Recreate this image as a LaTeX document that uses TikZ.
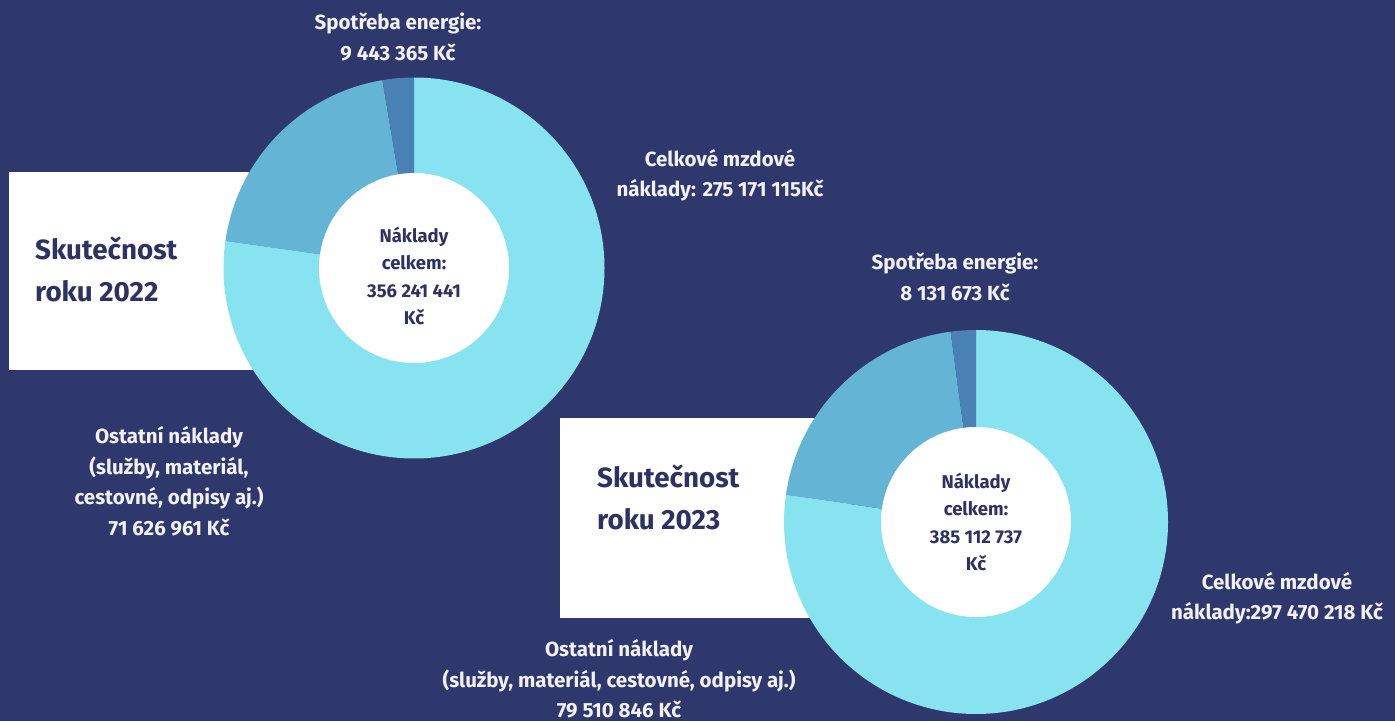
\documentclass[tikz,border=0pt]{standalone}
\usepackage{fontspec}
\setmainfont{Fira Sans}
\definecolor{bg}{HTML}{2F386C}
\definecolor{mzdy}{HTML}{87E3F0}
\definecolor{ost}{HTML}{64B4D6}
\definecolor{ener}{HTML}{4A82B5}
\definecolor{dark}{HTML}{2D3263}
\definecolor{wtext}{HTML}{F2F2F6}
\tikzset{
  lbl/.style={text=wtext, align=center, inner sep=0pt, font=\bfseries\fontsize{20.5}{30.5}\selectfont},
  inlbl/.style={text=dark, align=center, inner sep=0pt, font=\bfseries\fontsize{18.5}{27.5}\selectfont},
  ttl/.style={text=dark, align=left, inner sep=0pt, anchor=west, font=\bfseries\fontsize{27.8}{42}\selectfont},
  panel/.style={fill=white, draw=none},
}
\begin{document}
\begin{tikzpicture}[x=1pt,y=1pt]
\fill[bg] (0,0) rectangle (1395,721);
\useasboundingbox (0,0) rectangle (1395,721);
% white panels
\fill[panel] (9,549) rectangle (330,351);
\fill[panel] (560,303) rectangle (850,103);
% donut 1
\coordinate (c1) at (414,453);
\fill[mzdy] (c1) -- ++(90:190.5) arc[start angle=90, end angle=-188.07, radius=190.5] -- cycle;
\fill[ost] (c1) -- ++(-188.07:190.5) arc[start angle=-188.07, end angle=-260.45, radius=190.5] -- cycle;
\fill[ener] (c1) -- ++(-260.45:190.5) arc[start angle=-260.45, end angle=-270, radius=190.5] -- cycle;
\fill[white] (c1) circle[radius=95];
% donut 2
\coordinate (c2) at (976,199);
\fill[mzdy] (c2) -- ++(90:192) arc[start angle=90, end angle=-188.07, radius=192] -- cycle;
\fill[ost] (c2) -- ++(-188.07:192) arc[start angle=-188.07, end angle=-262.40, radius=192] -- cycle;
\fill[ener] (c2) -- ++(-262.40:192) arc[start angle=-262.40, end angle=-270, radius=192] -- cycle;
\fill[white] (c2) circle[radius=95];
% titles
\node[ttl] (t1) at (35,452) {Skutečnost\\roku 2022};
\node[ttl] (t2) at (597,224) {Skutečnost\\roku 2023};
% centre labels
\node[inlbl] (in1) at (414,445) {Náklady\\celkem:\\356 241 441\\Kč};
\node[inlbl] (in2) at (976,199) {Náklady\\celkem:\\385 112 737\\Kč};
% labels chart 1
\node[lbl] (e1) at (398,684) {Spotřeba energie:\\9 443 365 Kč};
\node[lbl] (m1) at (720,546) {Celkové mzdové\\náklady: 275 171 115Kč};
\node[lbl] (o1) at (169,240) {Ostatní náklady\\(služby, materiál,\\cestovné, odpisy aj.)\\71 626 961 Kč};
% labels chart 2
\node[lbl] (e2) at (955,444) {Spotřeba energie:\\8 131 673 Kč};
\node[lbl] (m2) at (1277,123) {Celkové mzdové\\náklady:297 470 218 Kč};
\node[lbl] (o2) at (619,42) {Ostatní náklady\\(služby, materiál, cestovné, odpisy aj.)\\79 510 846 Kč};
\end{tikzpicture}
\end{document}
